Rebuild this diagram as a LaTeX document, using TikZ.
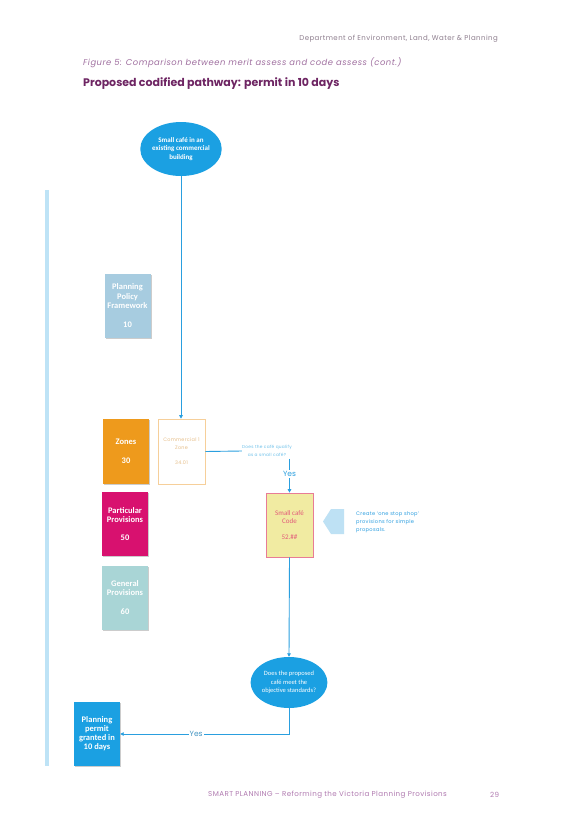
\documentclass[tikz,border=0pt]{standalone}
\usepackage{fontspec}
\setmainfont{Poppins}[AutoFakeSlant=0.2]
\newfontfamily\carlito{Carlito}
\newfontfamily\popls{Poppins}[LetterSpace=6]
\usetikzlibrary{arrows.meta,shadows,calc,shapes.geometric}
\definecolor{cblue}{HTML}{1BA0E2}
\definecolor{lineblue}{HTML}{2A9FDF}
\definecolor{ppfc}{HTML}{A7CCE0}
\definecolor{zonec}{HTML}{EE9A1C}
\definecolor{partc}{HTML}{D8116F}
\definecolor{genc}{HTML}{A9D5D6}
\definecolor{combord}{HTML}{F6CF9A}
\definecolor{comtext}{HTML}{E6BE88}
\definecolor{cafefill}{HTML}{F1EBA2}
\definecolor{cafebord}{HTML}{E87C96}
\definecolor{cafetext}{HTML}{E25A7A}
\definecolor{pentc}{HTML}{BEE1F4}
\definecolor{barc}{HTML}{BEE3F6}
\definecolor{hdrc}{HTML}{8E7E8E}
\definecolor{capc}{HTML}{A070A0}
\definecolor{ttlc}{HTML}{6E2563}
\definecolor{ftrc}{HTML}{B07AB0}
\definecolor{qc}{HTML}{6CC0EA}
\definecolor{createc}{HTML}{2B9EE0}
\tikzset{
  sh/.style={drop shadow={shadow xshift=1pt,shadow yshift=-1pt,fill=black!50,opacity=0.4}},
  box/.style={rectangle, minimum width=46pt, minimum height=64pt, inner sep=0pt, align=center,
    font=\carlito\bfseries\fontsize{8.5}{9.3}\selectfont, text=white, sh},
  oval/.style={ellipse, fill=cblue, inner sep=0pt, align=center, text=white},
  conn/.style={draw=lineblue, line width=0.9pt},
  arr/.style={conn, -{Triangle[length=3.5pt,width=3.5pt]}},
  yeslab/.style={fill=white, inner sep=1pt, font=\fontsize{7.5}{8}\selectfont, text=lineblue},
  txt/.style={inner sep=0pt},
}
\begin{document}
\begin{tikzpicture}[x=1pt,y=-1pt]
\useasboundingbox[fill=white] (0,0) rectangle (581,822);
% header texts
\node[txt, anchor=east, text=hdrc, font=\popls\fontsize{7}{8}\selectfont] (hdr) at (498,39) {Department of Environment, Land, Water \& Planning};
\node[txt, anchor=west, text=capc, font=\popls\itshape\fontsize{8.4}{9}\selectfont] (cap) at (83,63) {Figure 5: Comparison between merit assess and code assess (cont.)};
\node[txt, anchor=west, text=ttlc, font=\bfseries\fontsize{11}{12}\selectfont] (ttl) at (83,84) {Proposed codified pathway: permit in 10 days};
% left bar
\fill[barc] (45,190) rectangle (49,766);
% top ellipse
\node[oval, minimum width=76pt, minimum height=54pt, font=\carlito\bfseries\fontsize{7}{8.3}\selectfont] (start) at (181,149) {Small café in an\\existing commercial\\building};
% left boxes
\node[box, fill=ppfc] (ppf) at (127.5,305.5) {Planning\\Policy\\Framework\\[9.3pt]10};
\node[box, fill=zonec, minimum height=65pt] (zones) at (126,451) {Zones\\[9.3pt]30};
\node[box, fill=partc] (part) at (125,524) {Particular\\Provisions\\[9.3pt]50};
\node[box, fill=genc] (gen) at (125,597.5) {General\\Provisions\\[9.3pt]60};
% commercial zone
\node[box, fill=white, draw=combord, line width=0.6pt, minimum width=47pt, minimum height=65pt, text=comtext,
  font=\popls\fontsize{4.9}{8}\selectfont] (com) at (181.5,451.5) {Commercial 1\\Zone\\[7pt]34.01};
% question label
\node[txt, align=center, text=qc, font=\popls\fontsize{4.3}{8}\selectfont] (q) at (267,451) {Does the café qualify\\as a small café?};
% small cafe code
\node[box, fill=cafefill, draw=cafebord, line width=0.7pt, minimum width=47pt, minimum height=64pt, text=cafetext,
  font=\carlito\fontsize{7}{8.3}\selectfont] (cafe) at (289.5,525) {Small café\\Code\\[7pt]52.\#\#};
% pentagon arrow
\fill[pentc] (323,521.5) -- (331,509) -- (344,509) -- (344,534) -- (331,534) -- cycle;
\node[txt, anchor=west, align=left, text=createc, font=\popls\fontsize{5.1}{8}\selectfont] (create) at (356,522) {Create ‘one stop shop’\\provisions for simple\\proposals.};
% bottom ellipse
\node[oval, minimum width=76pt, minimum height=51pt, font=\carlito\fontsize{6.5}{8.3}\selectfont] (dec) at (289,682.5) {Does the proposed\\café meet the\\objective standards?};
% permit box
\node[box, fill=cblue, minimum height=64pt, font=\carlito\bfseries\fontsize{8.5}{9}\selectfont] (permit) at (97,734) {Planning\\permit\\granted in\\10 days};
% footer
\node[txt, anchor=west, text=ftrc, font=\popls\fontsize{7.1}{8}\selectfont] (ftr) at (208,795) {SMART PLANNING – Reforming the Victoria Planning Provisions};
\node[txt, anchor=west, text=ftrc, font=\popls\fontsize{7.1}{8}\selectfont] (pg) at (490,795) {29};
% connectors
\draw[arr] (start.south) -- (start.south |- com.north);
\draw[conn] (com.east) -- (q.west);
\coordinate (qb) at ($(q.south -| cafe.north)+(0,2)$);
\draw[arr] (qb) -- node[yeslab, pos=0.45]{Yes} (cafe.north);
\draw[arr] (cafe.south) -- (dec.north);
\coordinate (turn) at (dec.south |- permit.east);
\draw[arr] (dec.south) -- (turn) -- node[yeslab, text=lineblue!70!gray, pos=0.55]{Yes} (permit.east);
\end{tikzpicture}
\end{document}
